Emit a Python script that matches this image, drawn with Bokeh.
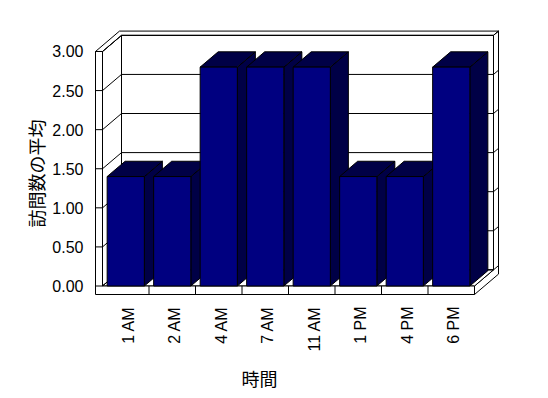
import math
from bokeh.plotting import figure
from bokeh.models import Range1d
from bokeh.core.properties import value
from bokeh.embed import file_html
from bokeh.resources import INLINE

# ---- data ----
categories = ["1 AM", "2 AM", "4 AM", "7 AM", "11 AM", "1 PM", "4 PM", "6 PM"]
visits_avg = [1.40, 1.40, 2.80, 2.80, 2.80, 1.40, 1.40, 2.80]
y_ticks = [0.0, 0.5, 1.0, 1.5, 2.0, 2.5, 3.0]
y_tick_labels = ["0.00", "0.50", "1.00", "1.50", "2.00", "2.50", "3.00"]
x_title = "時間"
y_title = "訪問数の平均"

# ---- layout constants (pixels) ----
W, H = 548, 398
X0_PX = 102.0      # left edge of category area (front plane)
CAT_PX = 46.5      # width of one category
Y0_PX = 285.5      # pixel row of value 0 (front plane)
UNIT_PX = 78.17    # pixels per value unit
K = 0.85           # vertical shift per pixel of depth
D_IN, D_OUT, D_BAR = 19.0, 24.0, 18.0
WALL_PX = 7.0      # wall thickness
SLAB_PX = 8.5      # floor slab thickness
YMAX = y_ticks[-1]
NCAT = len(categories)

def px2x(px):
    return (px - X0_PX) / CAT_PX

def py2y(py):
    return (Y0_PX - py) / UNIT_PX

def P(x, y, d):
    """project a point (data x, data y, depth in px) to data coords"""
    return x + d / CAT_PX, y + K * d / UNIT_PX

def poly(pts):
    xs, ys = zip(*[P(*q) for q in pts])
    return list(xs), list(ys)

XW = -WALL_PX / CAT_PX          # outer left of wall
XR = float(NCAT)                # right end
YS = -SLAB_PX / UNIT_PX         # bottom of floor slab

p = figure(width=W, height=H, x_range=Range1d(px2x(0), px2x(W)),
           y_range=Range1d(py2y(H), py2y(0)), min_border=0,
           toolbar_location=None, output_backend="svg")
p.axis.visible = False
p.grid.visible = False
p.outline_line_color = None
p.background_fill_color = "white"
p.border_fill_color = "white"

# ---- walls / floor ----
shapes = []
# back wall front face
shapes.append(poly([(0, 0, D_IN), (XR, 0, D_IN), (XR, YMAX, D_IN), (0, YMAX, D_IN)]))
# left wall inner face
shapes.append(poly([(0, 0, 0), (0, YMAX, 0), (0, YMAX, D_IN), (0, 0, D_IN)]))
# top of walls
shapes.append(poly([(XW, YMAX, 0), (0, YMAX, 0), (0, YMAX, D_IN), (XR, YMAX, D_IN),
                    (XR, YMAX, D_OUT), (XW, YMAX, D_OUT)]))
# right faces (back wall + floor slab)
shapes.append(poly([(XR, YS, 0), (XR, 0, 0), (XR, 0, D_IN), (XR, YMAX, D_IN),
                    (XR, YMAX, D_OUT), (XR, YS, D_OUT)]))
# floor top
shapes.append(poly([(0, 0, 0), (XR, 0, 0), (XR, 0, D_IN), (0, 0, D_IN)]))
# front L-shape (left wall front + floor slab front)
shapes.append(poly([(XW, YMAX, 0), (0, YMAX, 0), (0, 0, 0), (XR, 0, 0), (XR, YS, 0), (XW, YS, 0)]))

p.patches([s[0] for s in shapes], [s[1] for s in shapes], fill_color="white",
          line_color="black", line_width=1)

# grid lines on walls
gx, gy = [], []
for t in y_ticks:
    for a, b in [((XW, t, 0), (0, t, 0)), ((0, t, 0), (0, t, D_IN)),
                 ((0, t, D_IN), (XR, t, D_IN)), ((XR, t, D_IN), (XR, t, D_OUT))]:
        xa, ya = P(*a)
        xb, yb = P(*b)
        gx.append([xa, xb])
        gy.append([ya, yb])
# category separators on slab front
for i in range(1, NCAT):
    gx.append([i, i])
    gy.append([0, YS])
p.multi_line(gx, gy, line_color="black", line_width=1)

# ---- bars ----
BW = 0.4
sides, tops = [], []
for i, v in enumerate(visits_avg):
    c = i + 0.5
    l, r = c - BW, c + BW
    sides.append(poly([(r, 0, 0), (r, v, 0), (r, v, D_BAR), (r, 0, D_BAR)]))
    tops.append(poly([(l, v, 0), (r, v, 0), (r, v, D_BAR), (l, v, D_BAR)]))
dark = "#000046"
p.patches([s[0] for s in sides], [s[1] for s in sides], fill_color=dark,
          line_color="black", line_width=1)
p.patches([s[0] for s in tops], [s[1] for s in tops], fill_color=dark,
          line_color="black", line_width=1)
centers = [i + 0.5 for i in range(NCAT)]
p.quad(left=[c - BW for c in centers], right=[c + BW for c in centers],
       bottom=[0] * NCAT, top=visits_avg, fill_color="#000080",
       line_color="black", line_width=1)

# ---- texts ----
LAT = value("Liberation Sans")
p.text(x=[px2x(83)] * len(y_ticks), y=y_ticks, text=y_tick_labels,
       text_align="right", text_baseline="middle", text_font=LAT,
       text_font_size="16px", text_color="black")
p.text(x=[c + 2.5 / CAT_PX for c in centers], y=[py2y(306)] * NCAT, text=categories,
       angle=math.pi / 2, text_align="right", text_baseline="middle",
       text_font=LAT, text_font_size="16px", text_color="black")
CJK = value("Noto Sans CJK JP")
p.text(x=[px2x(259)], y=[py2y(377)], text=[x_title], text_align="center",
       text_baseline="middle", text_font=CJK, text_font_size="18px", text_color="black")
p.text(x=[px2x(35)], y=[py2y(173)], text=[y_title], angle=math.pi / 2,
       text_align="center", text_baseline="middle", text_font=CJK,
       text_font_size="18px", text_color="black")

open("out.html", "w").write(file_html(p, INLINE))
